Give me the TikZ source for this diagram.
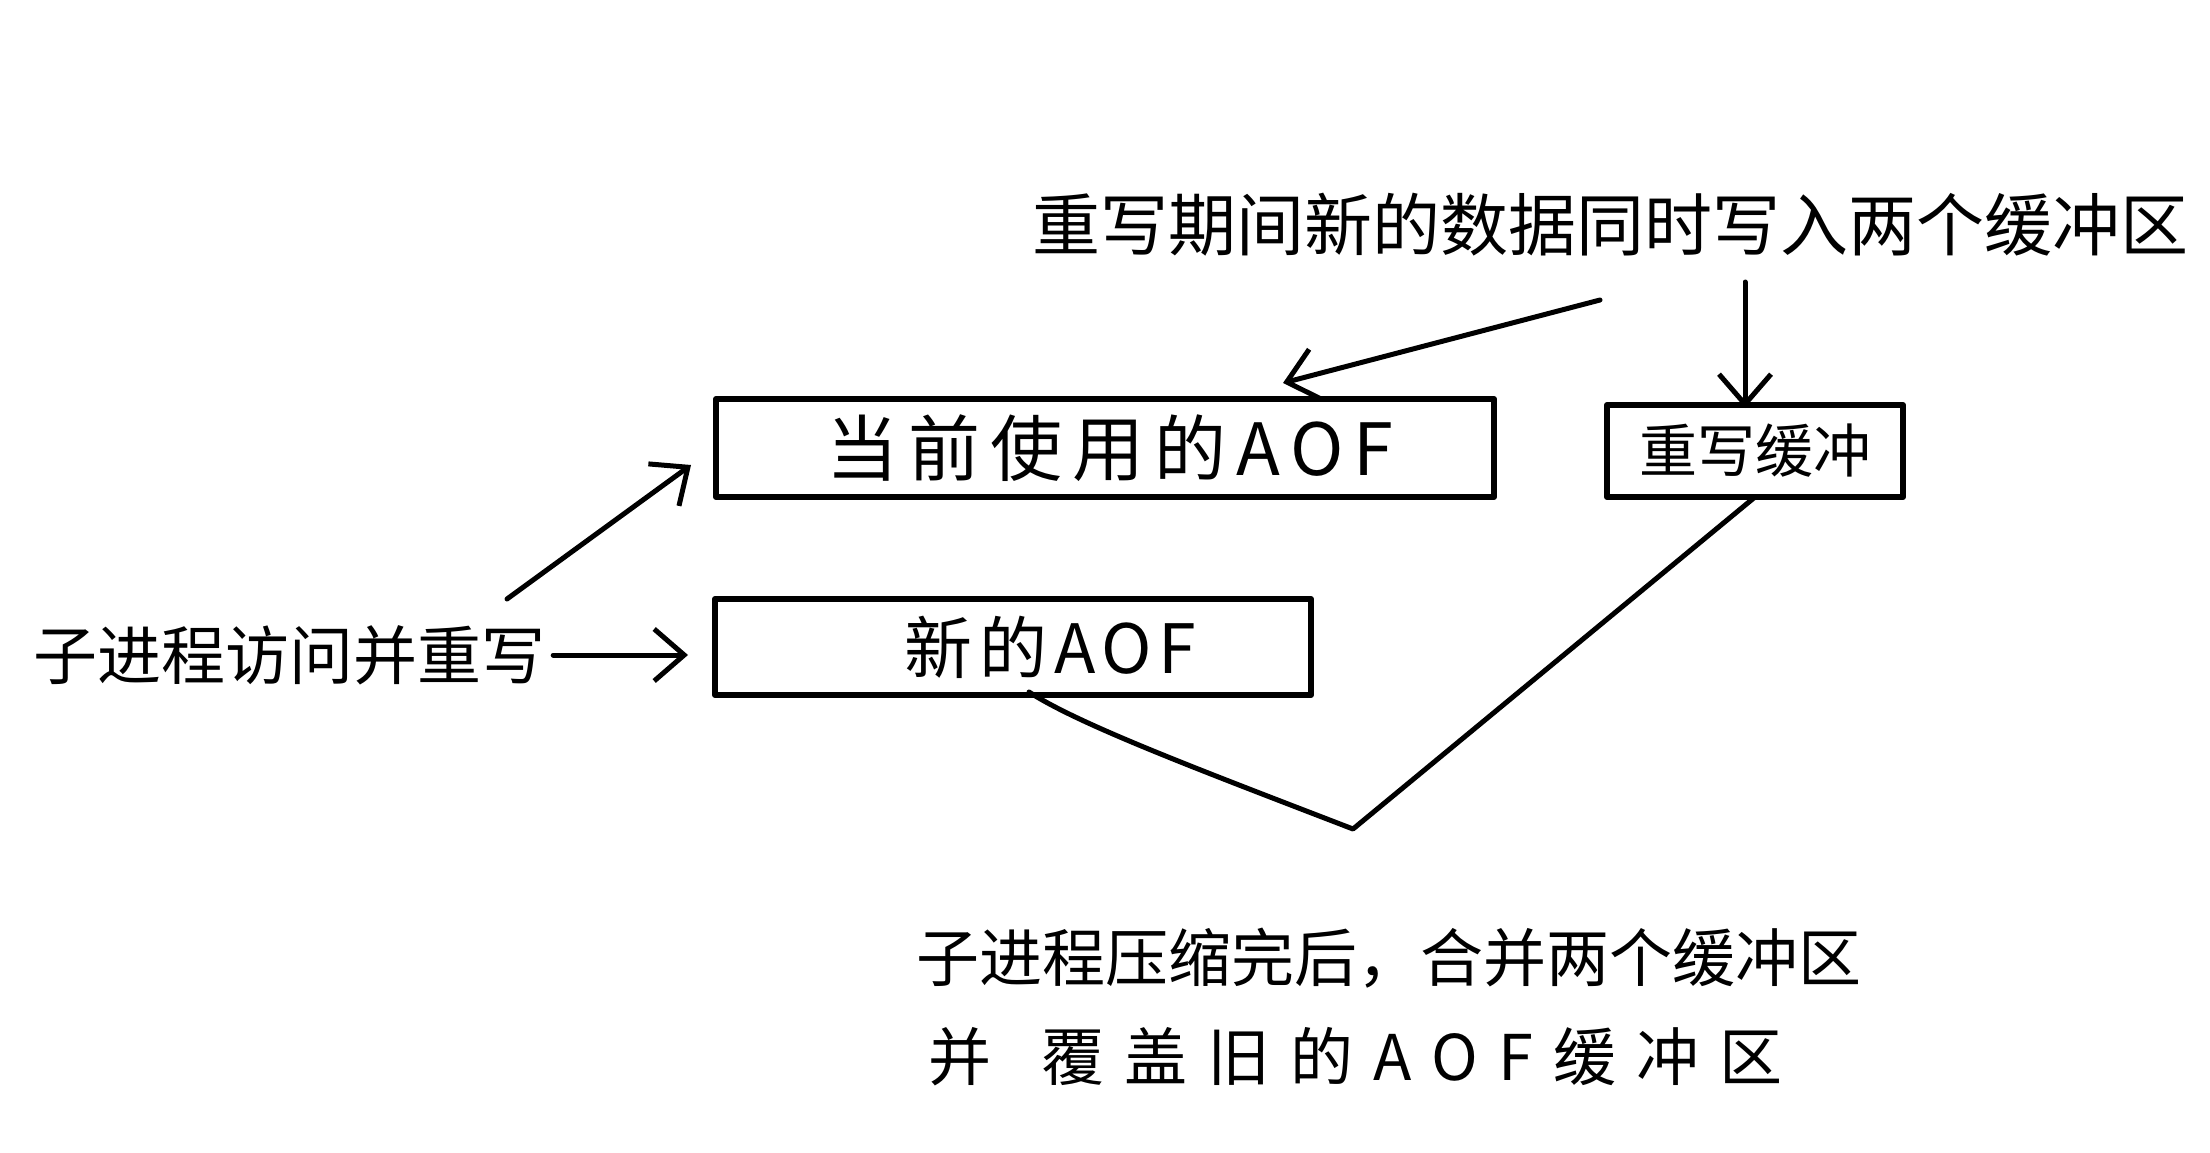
\documentclass[tikz,border=0pt]{standalone}
\usepackage{fontspec}
\setmainfont{Noto Sans CJK SC}
\usetikzlibrary{arrows.meta}
\tikzset{
  box/.style={draw, line width=6pt, line join=round, inner sep=0pt},
  conn/.style={line width=5pt, line cap=round, line join=round},
  arr/.style={conn, -{Straight Barb[length=30pt, width=52pt, line width=5pt]}},
  lbl/.style={inner sep=0pt},
}
\newcommand{\fs}[1]{\fontsize{#1pt}{#1pt}\selectfont}
\begin{document}
\begin{tikzpicture}[x=1pt,y=-1pt]
\useasboundingbox[fill=white] (0,0) rectangle (2210,1153);
% boxes
\node[box, minimum width=778pt, minimum height=98pt] (cur) at (1105,448) {\fs{72}\addfontfeature{LetterSpace=14}\hspace*{10pt}当前使用的AOF};
\node[box, minimum width=296pt, minimum height=92pt] (rbuf) at (1755,451) {\fs{58}重写缓冲};
\node[box, minimum width=596pt, minimum height=96pt] (new) at (1013,647) {\fs{68}\addfontfeature{LetterSpace=10}\hspace*{75pt}新的AOF};
% texts
\node[lbl] (top) at (1610,225) {\fs{68}重写期间新的数据同时写入两个缓冲区};
\node[lbl] (left) at (289,655) {\fs{64}子进程访问并重写};
\node[lbl, anchor=west] (bot1) at (916,958) {\fs{63}子进程压缩完后，合并两个缓冲区};
\node[lbl, anchor=west] (bot2) at (928,1057) {\fs{63}并\hspace{50pt}\addfontfeature{LetterSpace=32}覆盖旧的AOF缓冲区};
% connector helper points
\coordinate (t1) at (1600,300);
\coordinate (t1e) at (1283,383);
\coordinate (t2) at (1745,282);
\coordinate (l2) at (507,599);
\coordinate (l2e) at (691,465);
\coordinate (m) at (1353,829);
% arrows
\draw[arr] (t1) -- (t1e);
\draw[arr] (t2) -- ([xshift=-10pt,yshift=-6pt]rbuf.north);
\draw[arr, shorten <=8pt, shorten >=24pt] (left.east) -- (new.west |- left.east);
\draw[arr] (l2) -- (l2e);
\draw[conn] ([xshift=16pt,yshift=6pt]new.south) .. controls (1080,725) and (1200,770) .. (m) -- ([yshift=3pt]rbuf.south);
\end{tikzpicture}
\end{document}
